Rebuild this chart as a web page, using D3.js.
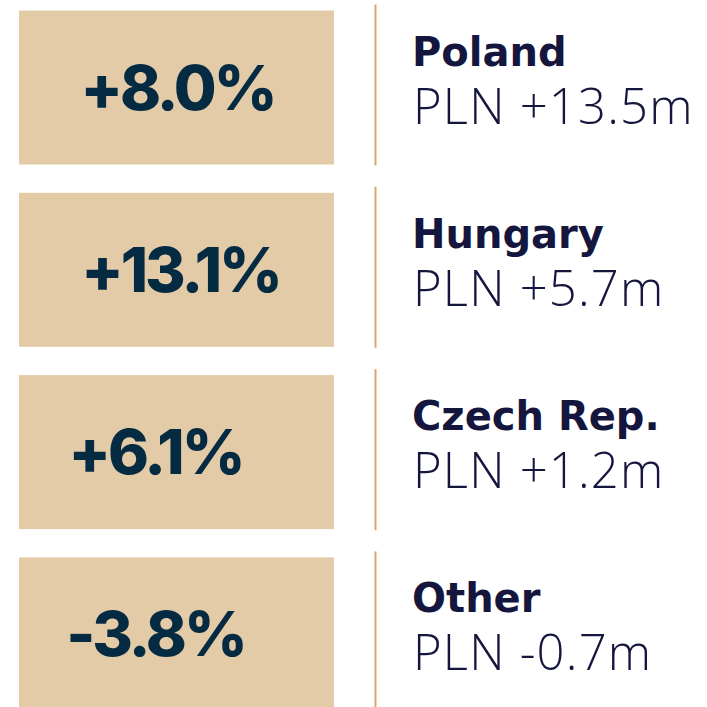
<!DOCTYPE html>
<html>
<head>
<meta charset="utf-8">
<script src="https://cdn.jsdelivr.net/npm/d3@7"></script>
<style>
  html, body { margin: 0; padding: 0; background: #ffffff; }
  svg { display: block; }
</style>
</head>
<body>
<div id="chart"></div>
<script>
// ---- data ----
const regions = ["Poland", "Hungary", "Czech Rep.", "Other"];
const growthPct = [8.0, 13.1, 6.1, -3.8];
const changePLNm = [13.5, 5.7, 1.2, -0.7];

// ---- layout ----
const W = 707, H = 707;
const pctCenterX = [178, 181, 156, 156];
const boxH = 154, step = 182.3, top0 = 10.5;

const svg = d3.select("#chart").append("svg")
  .attr("width", W).attr("height", H);

const y = d3.scaleBand()
  .domain(regions)
  .range([top0, top0 + 3 * step + boxH])
  .paddingInner((step - boxH) / step)
  .paddingOuter(0);

const fmtPct = v => (v >= 0 ? "+" : "-") + d3.format(".1f")(Math.abs(v)) + "%";
const fmtPLN = v => "PLN " + (v >= 0 ? "+" : "-") + d3.format(".1f")(Math.abs(v)) + "m";

const rows = svg.selectAll("g.row")
  .data(regions.map((r, i) => ({ region: r, pct: growthPct[i], pln: changePLNm[i], i })))
  .join("g")
  .attr("class", "row");

rows.append("rect")
  .attr("x", 19)
  .attr("y", d => y(d.region))
  .attr("width", 315)
  .attr("height", y.bandwidth())
  .attr("fill", "#e4cba7");

rows.append("line")
  .attr("x1", 375.5).attr("x2", 375.5)
  .attr("y1", d => y(d.region) - 6)
  .attr("y2", d => y(d.region) + y.bandwidth() + 1)
  .attr("stroke", "#d9a769")
  .attr("stroke-width", 2);

rows.append("text")
  .attr("x", d => pctCenterX[d.i] - 0.5)
  .attr("y", d => y(d.region) + 99)
  .attr("text-anchor", "middle")
  .attr("font-family", "Inter, 'Open Sans', sans-serif")
  .attr("font-weight", 800)
  .attr("font-size", 62)
  .attr("letter-spacing", -3)
  .attr("fill", "#052b42")
  .text(d => fmtPct(d.pct));

rows.append("text")
  .attr("x", 412)
  .attr("y", d => y(d.region) + 55)
  .attr("font-family", "'DejaVu Sans', sans-serif")
  .attr("font-weight", 700)
  .attr("font-size", 40)
  .attr("fill", "#15163d")
  .text(d => d.region);

rows.append("text")
  .attr("x", 413)
  .attr("y", d => y(d.region) + 113)
  .attr("font-family", "'Open Sans', sans-serif")
  .attr("font-weight", 300)
  .attr("font-size", 49)
  .attr("letter-spacing", 1.2)
  .attr("fill", "#15163d")
  .text(d => fmtPLN(d.pln));
</script>
</body>
</html>
